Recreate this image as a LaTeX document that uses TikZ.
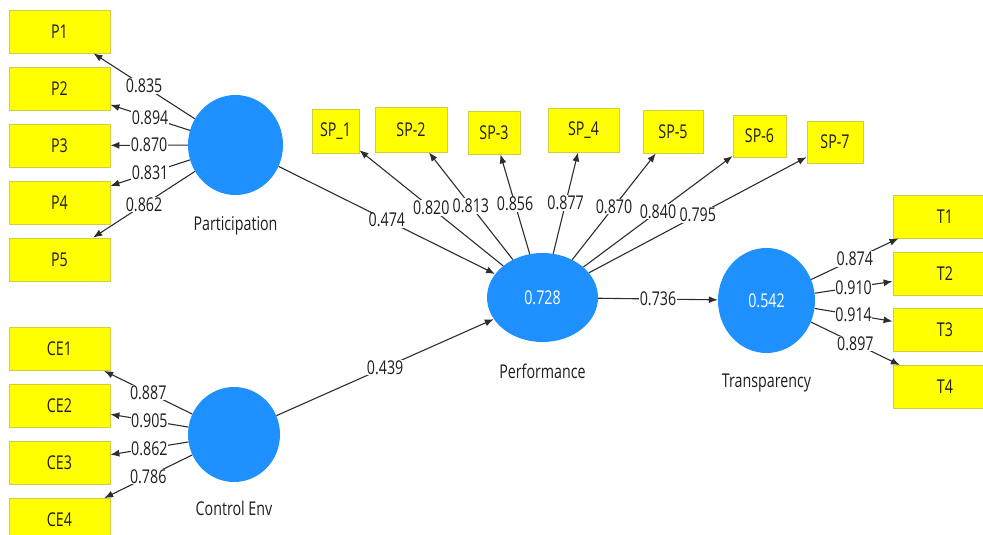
\documentclass[tikz,border=0pt]{standalone}
\usepackage{fontspec}
\setmainfont{Open Sans}[FakeStretch=0.75]
\usetikzlibrary{shapes.geometric,arrows.meta}
\definecolor{boxyellow}{RGB}{255,255,0}
\definecolor{boxedge}{RGB}{205,205,70}
\definecolor{lvblue}{RGB}{30,144,255}
\definecolor{edgegray}{RGB}{45,45,45}
\definecolor{txt}{RGB}{30,30,30}
\begin{document}
\begin{tikzpicture}[x=1pt,y=-1pt,
  lbl/.style={font=\fontsize{19}{21}\selectfont},
  mv/.style={draw=boxedge, fill=boxyellow, line width=0.8pt, minimum height=43pt,
    inner sep=0pt, lbl, text=txt},
  lv/.style={ellipse, fill=lvblue, draw=none, inner sep=0pt, text=white, lbl},
  lvname/.style={inner sep=0pt, lbl, text=txt, yshift=-#1},
  ld/.style={draw=edgegray, line width=1.1pt, -{Latex[length=9pt,width=7pt]}},
  wt/.style={midway, fill=white, inner sep=0.6pt, lbl, text=txt}
]
\useasboundingbox (0,0) rectangle (983,535);

% latent variables
\node[lv, minimum width=95pt, minimum height=100pt, label={[lvname=21pt]below:Participation}] (PA) at (235.5,145) {};
\node[lv, minimum width=92pt, minimum height=95pt, label={[lvname=19pt]below:Control Env}] (CE) at (234,434.5) {};
\node[lv, minimum width=111pt, minimum height=89pt, label={[lvname=22pt]below:Performance}] (PF) at (542.5,297.5) {0.728};
\node[lv, minimum width=97pt, minimum height=105pt, label={[lvname=21pt]below:Transparency}] (TR) at (766.5,300.5) {0.542};

% Participation indicators
\node[mv, minimum width=101pt] (P1) at (59.5,31.5) {P1};
\node[mv, minimum width=101pt] (P2) at (59.5,88.5) {P2};
\node[mv, minimum width=101pt] (P3) at (59.5,145.5) {P3};
\node[mv, minimum width=101pt] (P4) at (59.5,202.5) {P4};
\node[mv, minimum width=101pt] (P5) at (59.5,259.5) {P5};

% Control Env indicators
\node[mv, minimum width=101pt] (CE1) at (59.5,349) {CE1};
\node[mv, minimum width=101pt] (CE2) at (59.5,406) {CE2};
\node[mv, minimum width=101pt] (CE3) at (59.5,463) {CE3};
\node[mv, minimum width=101pt] (CE4) at (59.5,520) {CE4};

% Performance indicators
\node[mv, minimum width=47pt, minimum height=44pt] (SP1) at (335.5,131) {SP\_1};
\node[mv, minimum width=72pt, minimum height=45pt] (SP2) at (411,129.5) {SP-2};
\node[mv, minimum width=52pt] (SP3) at (494,132.5) {SP-3};
\node[mv, minimum width=71pt, minimum height=44pt] (SP4) at (583.5,130) {SP\_4};
\node[mv, minimum width=60pt] (SP5) at (673,131.5) {SP-5};
\node[mv, minimum width=53pt, minimum height=42pt] (SP6) at (759.5,136) {SP-6};
\node[mv, minimum width=56pt, minimum height=42pt] (SP7) at (835,142) {SP-7};

% Transparency indicators
\node[mv, minimum width=104pt] (T1) at (945,216.5) {T1};
\node[mv, minimum width=104pt] (T2) at (945,273.5) {T2};
\node[mv, minimum width=104pt] (T3) at (945,330) {T3};
\node[mv, minimum width=104pt] (T4) at (945,387) {T4};

% outer loadings
\draw[ld] (PA) -- node[wt]{0.835} (P1);
\draw[ld] (PA) -- node[wt]{0.894} (P2);
\draw[ld] (PA) -- node[wt]{0.870} (P3);
\draw[ld] (PA) -- node[wt]{0.831} (P4);
\draw[ld] (PA) -- node[wt]{0.862} (P5);

\draw[ld] (CE) -- node[wt]{0.887} (CE1);
\draw[ld] (CE) -- node[wt]{0.905} (CE2);
\draw[ld] (CE) -- node[wt]{0.862} (CE3);
\draw[ld] (CE) -- node[wt]{0.786} (CE4);

\draw[ld] (PF) -- node[wt]{0.820} (SP1);
\draw[ld] (PF) -- node[wt]{0.813} (SP2);
\draw[ld] (PF) -- node[wt]{0.856} (SP3);
\draw[ld] (PF) -- node[wt]{0.877} (SP4);
\draw[ld] (PF) -- node[wt]{0.870} (SP5);
\draw[ld] (PF) -- node[wt]{0.840} (SP6);
\draw[ld] (PF) -- node[wt]{0.795} (SP7);

\draw[ld] (TR) -- node[wt]{0.874} (T1);
\draw[ld] (TR) -- node[wt]{0.910} (T2);
\draw[ld] (TR) -- node[wt]{0.914} (T3);
\draw[ld] (TR) -- node[wt]{0.897} (T4);

% path coefficients
\draw[ld] (PA) -- node[wt]{0.474} (PF);
\draw[ld] (CE) -- node[wt]{0.439} (PF);
\draw[ld] (PF) -- node[wt]{0.736} (TR);
\end{tikzpicture}
\end{document}
